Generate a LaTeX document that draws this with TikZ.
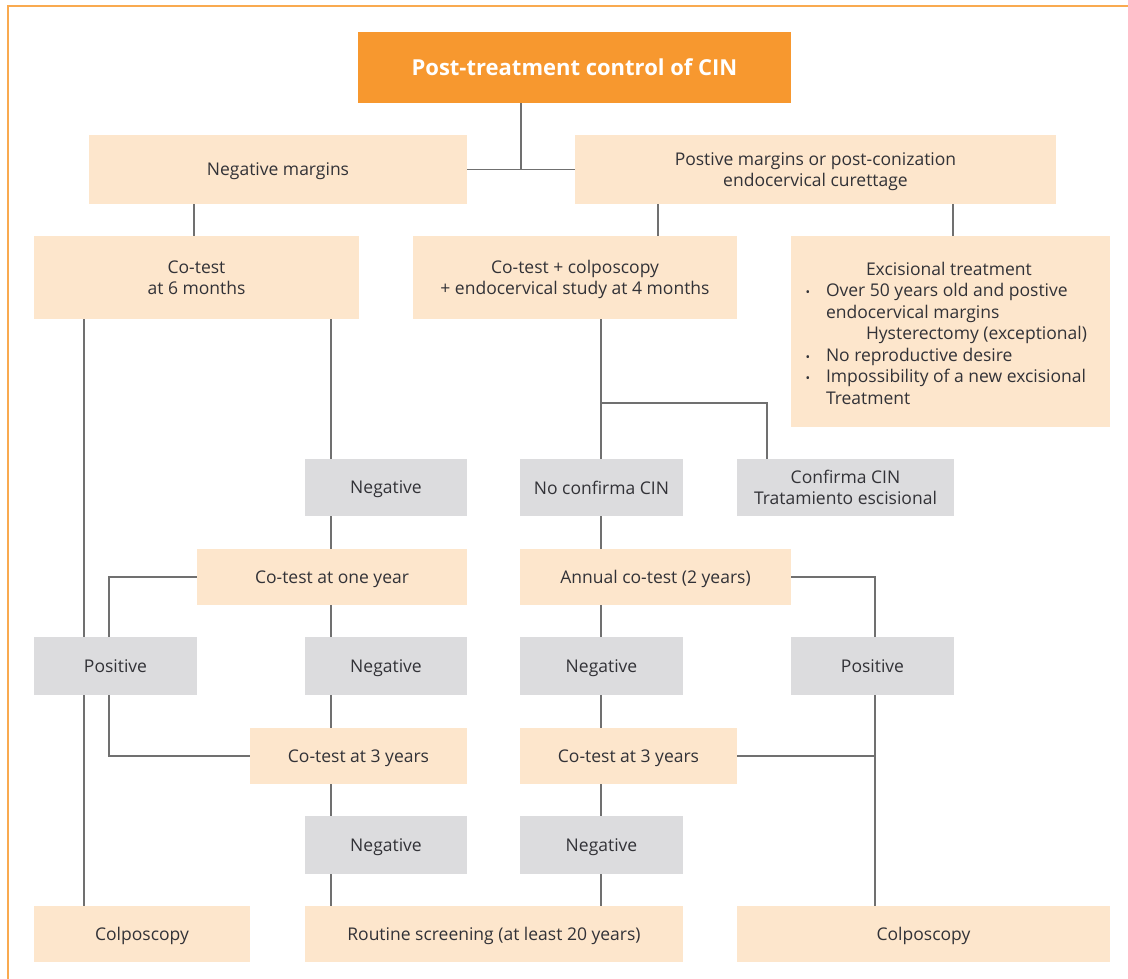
\documentclass[tikz,border=0pt]{standalone}
\usepackage{fontspec}
\setmainfont{Open Sans}
\usetikzlibrary{backgrounds}
\definecolor{cream}{RGB}{253,230,204}
\definecolor{greybox}{RGB}{220,220,222}
\definecolor{titleorange}{RGB}{247,152,47}
\definecolor{frameorange}{RGB}{249,170,80}
\definecolor{linegrey}{RGB}{112,112,112}
\definecolor{txt}{RGB}{50,50,55}
\begin{document}
\begin{tikzpicture}[x=1pt,y=-1pt,
  base/.style={inner sep=0pt, outer sep=0pt, text=txt, align=center, text depth=0pt,
    font=\fontsize{17.5}{21.5}\selectfont},
  creambox/.style={base, fill=cream},
  greybx/.style={base, fill=greybox},
  titlebox/.style={base, fill=titleorange, text=white,
    font=\fontsize{22}{26}\selectfont\bfseries},
  conn/.style={draw=linegrey, line width=1.5pt},
  frame/.style={draw=frameorange, line width=2pt}]
\useasboundingbox (0,0) rectangle (1128,979);
\draw[frame] (8,979) -- (8,6) -- (1128,6);

% boxes
\node[titlebox, minimum width=433, minimum height=71] (title) at (574.5,67.5) {Post-treatment control of CIN};
\node[creambox, minimum width=378, minimum height=69] (negm) at (278,169.5) {Negative margins};
\node[creambox, minimum width=481, minimum height=69] (posm) at (815.5,169.5) {Postive margins or post-conization\\endocervical curettage};
\node[creambox, minimum width=325, minimum height=83] (ct6) at (196.5,277.5) {Co-test\\at 6 months};
\node[creambox, minimum width=324, minimum height=83] (ctc) at (575,277.5) {Co-test + colposcopy\\+ endocervical study at 4 months};
\node[creambox, minimum width=319, minimum height=191] (exc) at (950.5,331.5) {};
\node[base, anchor=north west, align=left, text depth=] (exctext) at (805,262) {%
\hspace*{61pt}Excisional treatment\\
\makebox[21pt][l]{\hspace*{0.5pt}{\fontsize{12}{12}\selectfont •}}Over 50 years old and postive\\
\hspace*{21pt}endocervical margins\\
\hspace*{61pt}Hysterectomy (exceptional)\\
\makebox[21pt][l]{\hspace*{0.5pt}{\fontsize{12}{12}\selectfont •}}No reproductive desire\\
\makebox[21pt][l]{\hspace*{0.5pt}{\fontsize{12}{12}\selectfont •}}Impossibility of a new excisional\\
\hspace*{21pt}Treatment};
\node[greybx, minimum width=162, minimum height=57] (neg1) at (386,487.5) {Negative};
\node[greybx, minimum width=163, minimum height=57] (noc) at (601.5,487.5) {No confirma CIN};
\node[greybx, minimum width=217, minimum height=57] (conf) at (845.5,487.5) {Confirma CIN\\Tratamiento escisional};
\node[creambox, minimum width=270, minimum height=56] (ct1y) at (332,577) {Co-test at one year};
\node[creambox, minimum width=271, minimum height=56] (ann) at (655.5,577) {Annual co-test (2 years)};
\node[greybx, minimum width=163, minimum height=58] (posL) at (115.5,666) {Positive};
\node[greybx, minimum width=162, minimum height=58] (neg2) at (386,666) {Negative};
\node[greybx, minimum width=163, minimum height=58] (neg3) at (601.5,666) {Negative};
\node[greybx, minimum width=163, minimum height=58] (posR) at (872.5,666) {Positive};
\node[creambox, minimum width=217, minimum height=56] (ct3L) at (358.5,756) {Co-test at 3 years};
\node[creambox, minimum width=217, minimum height=56] (ct3R) at (628.5,756) {Co-test at 3 years};
\node[greybx, minimum width=162, minimum height=58] (neg4) at (386,845) {Negative};
\node[greybx, minimum width=163, minimum height=58] (neg5) at (601.5,845) {Negative};
\node[creambox, minimum width=216, minimum height=56] (colL) at (142,934) {Colposcopy};
\node[creambox, minimum width=378, minimum height=56] (rout) at (494,934) {Routine screening (at least 20 years)};
\node[creambox, minimum width=373, minimum height=56] (colR) at (923.5,934) {Colposcopy};

% x positions of connectors
\coordinate (cxA) at (84,0);
\coordinate (cxB) at (109,0);
\coordinate (cxC) at (194,0);
\coordinate (cxD) at (331,0);
\coordinate (cxE) at (521,0);
\coordinate (cxF) at (601,0);
\coordinate (cxG) at (658,0);
\coordinate (cxH) at (767,0);
\coordinate (cxI) at (875,0);
\coordinate (cxJ) at (953,0);
\coordinate (yK) at (0,403);

\begin{scope}[on background layer]
\draw[conn] (negm.east) -- (posm.west);
\draw[conn] (title.south -| cxE) -- (cxE |- negm.east);
\draw[conn] (negm.south -| cxC) -- (ct6.north -| cxC);
\draw[conn] (posm.south -| cxG) -- (ctc.north -| cxG);
\draw[conn] (posm.south -| cxJ) -- (exc.north -| cxJ);
% left column
\draw[conn] (ct6.south -| cxA) -- (colL.north -| cxA);
\draw[conn] (ct6.south -| cxD) -- (neg1.north -| cxD);
\draw[conn] (neg1.south -| cxD) -- (ct1y.north -| cxD);
\draw[conn] (ct1y.south -| cxD) -- (neg2.north -| cxD);
\draw[conn] (neg2.south -| cxD) -- (ct3L.north -| cxD);
\draw[conn] (ct3L.south -| cxD) -- (neg4.north -| cxD);
\draw[conn] (neg4.south -| cxD) -- (rout.north -| cxD);
\draw[conn] (ct1y.west) -| (posL.north -| cxB);
\draw[conn] (posL.south -| cxB) |- (ct3L.west);
% middle column
\draw[conn] (ctc.south -| cxF) -- (noc.north -| cxF);
\draw[conn] (cxF |- yK) -| (conf.north -| cxH);
\draw[conn] (noc.south -| cxF) -- (ann.north -| cxF);
\draw[conn] (ann.south -| cxF) -- (neg3.north -| cxF);
\draw[conn] (neg3.south -| cxF) -- (ct3R.north -| cxF);
\draw[conn] (ct3R.south -| cxF) -- (neg5.north -| cxF);
\draw[conn] (neg5.south -| cxF) -- (rout.north -| cxF);
% right column
\draw[conn] (ann.east) -| (posR.north -| cxI);
\draw[conn] (posR.south -| cxI) -- (colR.north -| cxI);
\draw[conn] (ct3R.east) -- (cxI |- ct3R.east);
\end{scope}
\end{tikzpicture}
\end{document}
